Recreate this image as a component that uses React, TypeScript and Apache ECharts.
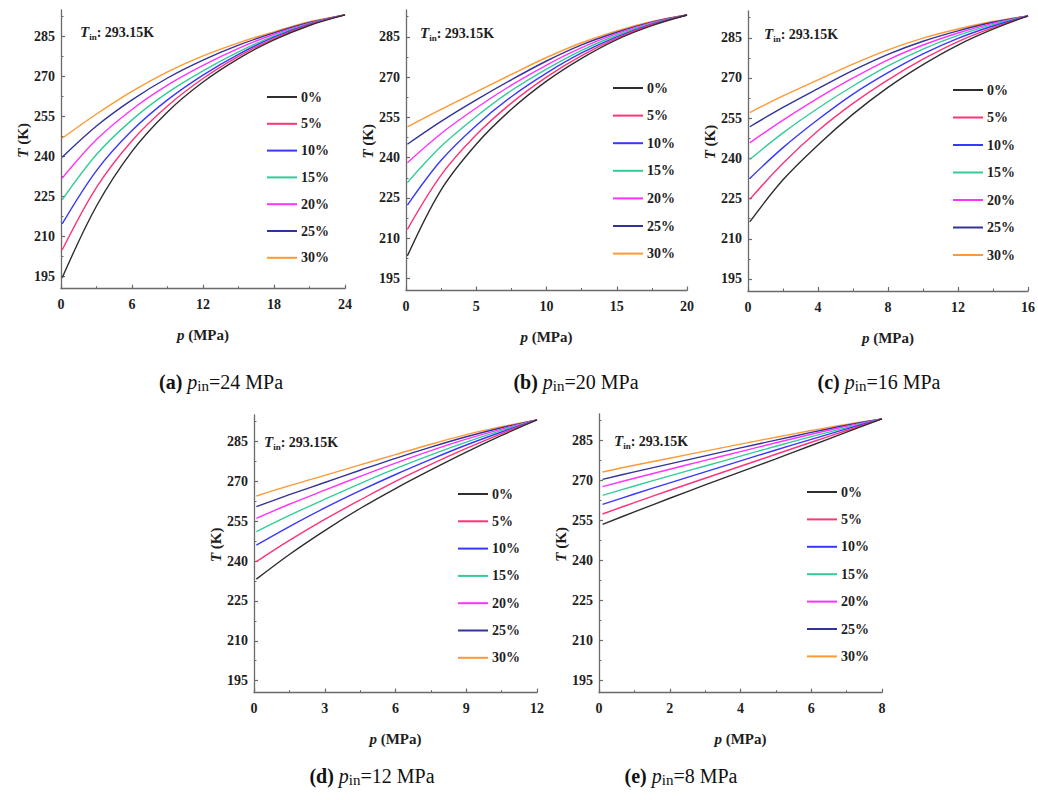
import React, { useEffect, useRef } from "react";
import * as echarts from "echarts";

// ---------- data ----------
const SERIES_NAMES = ["0%", "5%", "10%", "15%", "20%", "25%", "30%"];
const SERIES_COLORS = ["#2e2e2e", "#ff3377", "#3838ff", "#33cc99", "#ff33ff", "#333399", "#ff9933"];

const PANEL_LETTERS = ["a", "b", "c", "d", "e"];
const P_IN = [24, 20, 16, 12, 8];
const X_INTERVAL = [6, 5, 4, 3, 2];
const T_IN_LABEL = "293.15K";

const Y_MIN = 190.5;
const Y_MAX = 295;
const Y_TICKS = [195, 210, 225, 240, 255, 270, 285];
const Y_MINOR_TICKS = [202.5, 217.5, 232.5, 247.5, 262.5, 277.5, 292.5];

// (a) p_in = 24 MPa
const P_A = [0.1, 3, 6, 9, 12, 15, 18, 21, 24];
const T_A = [
  [194.6, 221.5, 242.0, 256.8, 268.0, 276.8, 283.8, 289.2, 293.15],
  [205.0, 228.5, 246.0, 259.0, 269.3, 277.6, 284.3, 289.5, 293.15],
  [214.8, 234.8, 249.8, 261.3, 270.6, 278.4, 284.8, 289.7, 293.15],
  [223.8, 240.8, 253.8, 264.0, 272.2, 279.3, 285.3, 289.9, 293.15],
  [231.9, 246.4, 257.7, 266.8, 274.2, 280.6, 285.9, 290.1, 293.15],
  [239.8, 251.5, 261.3, 269.5, 276.2, 281.8, 286.4, 290.3, 293.15],
  [246.9, 256.0, 264.5, 271.8, 277.8, 282.7, 286.8, 290.6, 293.15],
];

// (b) p_in = 20 MPa
const P_B = [0.1, 2.5, 5, 7.5, 10, 12.5, 15, 17.5, 20];
const T_B = [
  [203.4, 228.0, 245.0, 258.0, 268.5, 277.0, 284.0, 289.2, 293.15],
  [213.3, 233.5, 248.5, 260.3, 270.0, 278.0, 284.5, 289.5, 293.15],
  [222.3, 239.0, 252.0, 262.7, 271.5, 279.0, 285.0, 289.7, 293.15],
  [230.7, 244.2, 255.3, 265.0, 273.0, 280.0, 285.6, 290.0, 293.15],
  [238.1, 249.0, 258.5, 267.0, 274.5, 281.0, 286.2, 290.3, 293.15],
  [245.0, 253.5, 261.5, 269.0, 276.0, 282.0, 286.7, 290.5, 293.15],
  [251.5, 258.0, 264.5, 271.0, 277.3, 282.8, 287.2, 290.7, 293.15],
];

// (c) p_in = 16 MPa
const P_C = [0.1, 2, 4, 6, 8, 10, 12, 14, 16];
const T_C = [
  [216.3, 232.0, 245.0, 256.5, 266.5, 275.0, 282.3, 288.2, 293.15],
  [224.7, 238.2, 250.3, 260.5, 269.3, 277.0, 283.6, 288.8, 293.15],
  [232.5, 244.0, 254.5, 264.0, 272.0, 279.0, 284.8, 289.4, 293.15],
  [239.6, 249.5, 258.7, 267.0, 274.5, 280.8, 285.9, 289.9, 293.15],
  [245.8, 254.3, 262.5, 270.0, 276.8, 282.3, 286.8, 290.4, 293.15],
  [251.8, 259.0, 266.0, 272.8, 278.8, 283.7, 287.6, 290.8, 293.15],
  [257.1, 263.3, 269.3, 275.2, 280.5, 284.9, 288.3, 291.1, 293.15],
];

// (d) p_in = 12 MPa
const P_D = [0.1, 1.5, 3, 4.5, 6, 7.5, 9, 10.5, 12];
const T_D = [
  [233.2, 242.5, 251.5, 259.8, 267.3, 274.3, 281.0, 287.3, 293.15],
  [239.8, 247.8, 255.7, 263.0, 270.0, 276.4, 282.4, 288.0, 293.15],
  [246.0, 253.0, 260.0, 266.5, 272.6, 278.3, 283.7, 288.6, 293.15],
  [251.1, 257.2, 263.3, 269.2, 274.8, 280.0, 284.8, 289.2, 293.15],
  [256.1, 261.4, 266.7, 271.9, 276.9, 281.6, 285.9, 289.7, 293.15],
  [260.5, 265.0, 269.6, 274.2, 278.7, 282.9, 286.8, 290.2, 293.15],
  [264.5, 268.4, 272.3, 276.2, 280.1, 284.0, 287.6, 290.6, 293.15],
];

// (e) p_in = 8 MPa
const P_E = [0.1, 1, 2, 3, 4, 5, 6, 7, 8];
const T_E = [
  [253.6, 258.3, 263.4, 268.4, 273.3, 278.2, 283.2, 288.2, 293.15],
  [257.5, 261.8, 266.4, 270.9, 275.4, 279.9, 284.4, 288.8, 293.15],
  [261.1, 265.0, 269.2, 273.3, 277.4, 281.5, 285.5, 289.4, 293.15],
  [264.5, 268.0, 271.8, 275.5, 279.2, 282.9, 286.5, 289.9, 293.15],
  [267.75, 270.9, 274.3, 277.6, 280.9, 284.2, 287.4, 290.4, 293.15],
  [270.5, 273.3, 276.3, 279.3, 282.3, 285.2, 288.1, 290.8, 293.15],
  [273.25, 275.8, 278.4, 281.1, 283.7, 286.3, 288.8, 291.1, 293.15],
];

const P_ALL = [P_A, P_B, P_C, P_D, P_E];
const T_ALL = [T_A, T_B, T_C, T_D, T_E];

// ---------- layout ----------
const LAYOUT = [
  { grid: { left: 61, top: 10, width: 284, height: 278.7 }, legend: { left: 267, top: 89, gap: 10.8 }, tin: { x: 80, y: 32 }, caption: { x: 221, y: 382 } },
  { grid: { left: 406, top: 10, width: 281, height: 280.5 }, legend: { left: 613, top: 80, gap: 11.6 }, tin: { x: 420, y: 33 }, caption: { x: 576, y: 382 } },
  { grid: { left: 748, top: 11, width: 282, height: 280 }, legend: { left: 953, top: 82, gap: 11.5 }, tin: { x: 764, y: 34 }, caption: { x: 879, y: 382 } },
  { grid: { left: 254, top: 415, width: 283, height: 277.6 }, legend: { left: 458, top: 486, gap: 11.3 }, tin: { x: 264, y: 442 }, caption: { x: 372, y: 776 } },
  { grid: { left: 599, top: 414, width: 283, height: 278.7 }, legend: { left: 807, top: 484, gap: 11.4 }, tin: { x: 614, y: 441 }, caption: { x: 681, y: 776 } },
];

const FONT = "Liberation Serif";
const AXIS_COLOR = "#6a6a6a";
const TEXT_COLOR = "#1e1e1e";

function buildOption() {
  const grid: any[] = [];
  const xAxis: any[] = [];
  const yAxis: any[] = [];
  const series: any[] = [];
  const legend: any[] = [];
  const graphic: any[] = [];

  LAYOUT.forEach((L, i) => {
    grid.push({ ...L.grid });
    const axisLine = { show: true, lineStyle: { color: AXIS_COLOR, width: 1.3 } };
    const labelStyle = { fontFamily: FONT, fontWeight: "bold", fontSize: 14, color: TEXT_COLOR };
    xAxis.push({
      gridIndex: i,
      type: "value",
      min: 0,
      max: P_IN[i],
      interval: X_INTERVAL[i],
      axisLine,
      axisTick: { show: true, inside: true, length: 4, lineStyle: { color: AXIS_COLOR, width: 1.2 } },
      minorTick: { show: true, splitNumber: 2, length: 2.5, lineStyle: { color: AXIS_COLOR, width: 1 } },
      axisLabel: { ...labelStyle, margin: 9 },
      splitLine: { show: false },
      minorSplitLine: { show: false },
      name: "{i|p} (MPa)",
      nameLocation: "middle",
      nameGap: 39,
      nameTextStyle: {
        ...labelStyle,
        fontSize: 15,
        rich: {
          i: { fontFamily: FONT, fontWeight: "bold", fontStyle: "italic", fontSize: 15, color: TEXT_COLOR },
        },
      },
    });
    yAxis.push({
      gridIndex: i,
      type: "value",
      position: "left",
      min: Y_MIN,
      max: Y_MAX,
      axisLine,
      axisTick: { show: true, inside: true, length: 4, customValues: Y_TICKS, lineStyle: { color: AXIS_COLOR, width: 1.2 } },
      axisLabel: { ...labelStyle, margin: 6, customValues: Y_TICKS },
      splitLine: { show: false },
      name: "{i|T} (K)",
      nameLocation: "middle",
      nameGap: 29,
      nameRotate: 90,
      nameTextStyle: {
        ...labelStyle,
        fontSize: 15,
        padding: [0, 0, 0, 18],
        rich: {
          i: { fontFamily: FONT, fontWeight: "bold", fontStyle: "italic", fontSize: 15, color: TEXT_COLOR },
        },
      },
    });
    yAxis.push({
      gridIndex: i,
      type: "value",
      position: "left",
      offset: 0,
      min: Y_MIN,
      max: Y_MAX,
      axisLine: { show: false },
      axisTick: { show: true, inside: true, length: 2.5, customValues: Y_MINOR_TICKS, lineStyle: { color: AXIS_COLOR, width: 1 } },
      axisLabel: { show: false },
      splitLine: { show: false },
    });

    SERIES_NAMES.forEach((name, j) => {
      series.push({
        type: "line",
        name,
        xAxisIndex: i,
        yAxisIndex: 2 * i,
        data: P_ALL[i].map((p, k) => [p, T_ALL[i][j][k]]),
        smooth: 0.35,
        showSymbol: false,
        symbol: "none",
        silent: true,
        z: 2 + (SERIES_NAMES.length - j),
        lineStyle: { width: 1.4, color: SERIES_COLORS[j] },
        itemStyle: { color: SERIES_COLORS[j] },
      });
    });

    legend.push({
      data: SERIES_NAMES,
      orient: "vertical",
      left: L.legend.left,
      top: L.legend.top,
      padding: 0,
      itemGap: L.legend.gap,
      itemWidth: 30,
      itemHeight: 2,
      icon: "rect",
      selectedMode: false,
      textStyle: { fontFamily: FONT, fontWeight: "bold", fontSize: 14, color: TEXT_COLOR, lineHeight: 16, padding: [0, 0, 0, -1] },
    });

    graphic.push({
      type: "text",
      x: L.tin.x,
      y: L.tin.y,
      style: {
        text: "{t|T}{s|in}{n|: " + T_IN_LABEL + "}",
        verticalAlign: "middle",
        align: "left",
        rich: {
          t: { fontFamily: FONT, fontWeight: "bold", fontStyle: "italic", fontSize: 15, fill: TEXT_COLOR, lineHeight: 18 },
          s: { fontFamily: FONT, fontWeight: "bold", fontSize: 9, fill: TEXT_COLOR, lineHeight: 9, verticalAlign: "bottom" },
          n: { fontFamily: FONT, fontWeight: "bold", fontSize: 14, fill: TEXT_COLOR, lineHeight: 18 },
        },
      },
    });

    graphic.push({
      type: "text",
      x: L.caption.x,
      y: L.caption.y,
      style: {
        text: "{b|(" + PANEL_LETTERS[i] + ")}{n| }{i|p}{s|in}{n|=" + P_IN[i] + " MPa}",
        verticalAlign: "middle",
        align: "center",
        rich: {
          b: { fontFamily: FONT, fontWeight: "bold", fontSize: 20, fill: "#111", lineHeight: 23 },
          n: { fontFamily: FONT, fontSize: 20, fill: "#111", lineHeight: 23 },
          i: { fontFamily: FONT, fontStyle: "italic", fontSize: 20, fill: "#111", lineHeight: 23 },
          s: { fontFamily: FONT, fontSize: 15, fill: "#111", lineHeight: 17, verticalAlign: "bottom" },
        },
      },
    });
  });

  return {
    animation: false,
    backgroundColor: "#ffffff",
    textStyle: { fontFamily: FONT },
    grid,
    xAxis,
    yAxis,
    legend,
    series,
    graphic,
  };
}

export default function App() {
  const ref = useRef<HTMLDivElement>(null);
  useEffect(() => {
    if (!ref.current) return;
    const chart = echarts.init(ref.current, undefined, { renderer: "svg" });
    chart.setOption(buildOption() as any);
    return () => chart.dispose();
  }, []);
  return (
    <div
      ref={ref}
      style={{ position: "fixed", left: 0, top: 0, width: 1038, height: 800, background: "#fff" }}
    />
  );
}
